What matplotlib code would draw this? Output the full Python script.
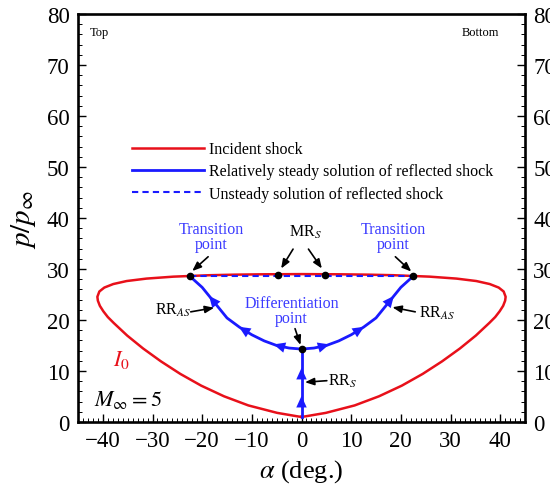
import numpy as np
import matplotlib
matplotlib.use("Agg")
import matplotlib.pyplot as plt
from matplotlib.lines import Line2D

plt.rcParams['font.family'] = ['Liberation Serif', 'DejaVu Serif']
plt.rcParams['mathtext.fontset'] = 'stix'

# Incident shock polar I0 (right half, from bottom to top)
theta_I = [0.0, 0.7, 4.9, 10.7, 15.6, 20.2, 24.4, 28.3, 31.9, 35.1, 37.8, 39.0,
           39.9, 40.6, 41.0, 41.1, 40.7, 39.7, 37.9, 35.2, 31.2, 25.8, 18.6,
           13.5, 7.8, 0.0]
p_I = [1.0, 1.09, 1.79, 3.25, 5.04, 7.13, 9.43, 11.89, 14.42, 16.95, 19.41, 20.58,
       21.71, 22.78, 23.79, 24.55, 25.59, 26.36, 27.05, 27.64, 28.12, 28.50, 28.78,
       28.89, 28.96, 29.0]

# RR_S (symmetric regular reflection) along alpha = 0
alpha_RRS = [0.0, 0.0]
p_RRS = [1.0, 14.3]

# RR_AS branch (right side; left side mirrored)
alpha_RRAS = [0.0, 2.5, 5.0, 7.5, 10.0, 12.5, 15.0, 17.5, 20.0, 22.5]
p_RRAS = [14.3, 14.5, 15.0, 15.9, 17.1, 18.6, 20.4, 23.4, 26.4, 28.6]

# Unsteady solution (dashed)
alpha_US = [-22.5, 22.5]
p_US = [28.6, 28.6]

# Special points
alpha_pts = [-22.5, -4.7, 4.7, 22.5, 0.0]
p_pts = [28.6, 28.9, 28.9, 28.6, 14.3]

# Flow-direction arrow locations
arrow_p_RRS = [4.5, 10.0]
arrow_alpha_RRAS = [5.0, 12.0, 18.0]

xticks = [-40, -30, -20, -10, 0, 10, 20, 30, 40]
yticks = [0, 10, 20, 30, 40, 50, 60, 70, 80]

RED = '#e8101a'
BLUE = '#1a1aff'
TBLUE = '#3b3bff'

fig = plt.figure(figsize=(5.5, 4.85), dpi=100)
ax = fig.add_axes([78/550, 1-423/485, (525-78)/550, (423-15)/485])

th = np.array(theta_I); pp = np.array(p_I)
x_full = np.concatenate([th, -th[::-1]])
y_full = np.concatenate([pp, pp[::-1]])
ax.plot(x_full, y_full, color=RED, lw=1.8, zorder=3)

ax.plot(alpha_US, p_US, color=BLUE, lw=1.5, ls=(0, (3, 2)), zorder=4)
ax.plot(alpha_RRS, p_RRS, color=BLUE, lw=2.0, zorder=4)
aR = np.array(alpha_RRAS); pR = np.array(p_RRAS)
ax.plot(aR, pR, color=BLUE, lw=2.0, zorder=4)
ax.plot(-aR, pR, color=BLUE, lw=2.0, zorder=4)
ax.plot(alpha_pts, p_pts, 'o', color='black', ms=4.5, zorder=6)

astyle = dict(arrowstyle='-|>,head_length=0.55,head_width=0.25', color=BLUE,
              lw=0.01, shrinkA=0, shrinkB=0, mutation_scale=15)
for pv in arrow_p_RRS:
    ax.annotate('', xy=(0, pv + 0.6), xytext=(0, pv - 0.6), arrowprops=astyle, zorder=5)
for av in arrow_alpha_RRAS:
    for s in (1, -1):
        p0 = np.interp(av - 0.6, aR, pR)
        p1 = np.interp(av + 0.6, aR, pR)
        ax.annotate('', xy=(s*(av + 0.6), p1), xytext=(s*(av - 0.6), p0),
                    arrowprops=astyle, zorder=5)

kstyle = dict(arrowstyle='-|>,head_length=0.45,head_width=0.18', color='black',
              lw=1.2, shrinkA=0, shrinkB=0, mutation_scale=12)

def arrow(x0, y0, x1, y1):
    ax.annotate('', xy=(x1, y1), xytext=(x0, y0), arrowprops=kstyle, zorder=7)

FS = 11.5
# annotations
ax.text(-18.1, 36.3, 'Transition\npoint', color=TBLUE, fontsize=FS, ha='center',
        va='center', linespacing=0.9)
arrow(-18.8, 32.4, -22.0, 29.6)
ax.text(18.5, 36.3, 'Transition\npoint', color=TBLUE, fontsize=FS, ha='center',
        va='center', linespacing=0.9)
arrow(18.9, 32.4, 22.1, 29.5)
ax.text(0.7, 37.4, r'MR$_{S}$', color='black', fontsize=FS, ha='center', va='center')
arrow(-1.7, 33.9, -4.1, 30.1)
arrow(1.4, 33.9, 4.1, 30.1)
ax.text(-2.0, 21.9, 'Differentiation\npoint', color=TBLUE, fontsize=FS, ha='center',
        va='center', linespacing=0.9)
arrow(-1.3, 18.3, -0.2, 15.1)
ax.text(-22.3, 22.0, r'RR$_{AS}$', color='black', fontsize=FS, ha='right', va='center')
arrow(-22.3, 21.6, -17.6, 22.4)
ax.text(23.6, 21.4, r'RR$_{AS}$', color='black', fontsize=FS, ha='left', va='center')
arrow(22.9, 21.6, 18.3, 22.5)
ax.text(5.4, 8.1, r'RR$_{S}$', color='black', fontsize=FS, ha='left', va='center')
arrow(5.1, 8.1, 0.7, 7.8)
ax.text(-36.3, 12.4, r'$I_0$', color=RED, fontsize=16, ha='center', va='center')
ax.text(-41.8, 4.6, r'$M_\infty = 5$', color='black', fontsize=16, ha='left', va='center')
ax.text(-42.7, 76.5, 'Top', fontsize=9, ha='left', va='center')
ax.text(39.8, 76.5, 'Bottom', fontsize=9, ha='right', va='center')

handles = [Line2D([], [], color=RED, lw=1.8),
           Line2D([], [], color=BLUE, lw=2.0),
           Line2D([], [], color=BLUE, lw=1.5, ls=(0, (3, 2)))]
labels = ['Incident shock', 'Relatively steady solution of reflected shock',
          'Unsteady solution of reflected shock']
ax.legend(handles, labels, loc='center left', bbox_to_anchor=(0.12, 0.614),
          frameon=False, fontsize=FS, handlelength=4.5, handletextpad=0.35,
          labelspacing=0.4, borderpad=0, borderaxespad=0)

ax.set_xlim(-45, 45)
ax.set_ylim(0, 80)
ax.set_xticks(xticks)
ax.set_yticks(yticks)
ax.set_xticks(np.arange(-45, 46, 1), minor=True)
ax.set_yticks(np.arange(0, 81, 2), minor=True)
ax.tick_params(which='both', direction='in', labelsize=16.5, top=False, right=True,
               labelright=True)
ax.tick_params(which='major', length=6, width=1.0, pad=6)
ax.tick_params(which='minor', length=3, width=0.7)
for sp in ax.spines.values():
    sp.set_linewidth(1.9)

ax.set_xlabel(r'$\alpha$ (deg.)', fontsize=19, labelpad=4)
ax.set_ylabel(r'$p/p_\infty$', fontsize=21, labelpad=6)

fig.savefig('out.png', dpi=100)
